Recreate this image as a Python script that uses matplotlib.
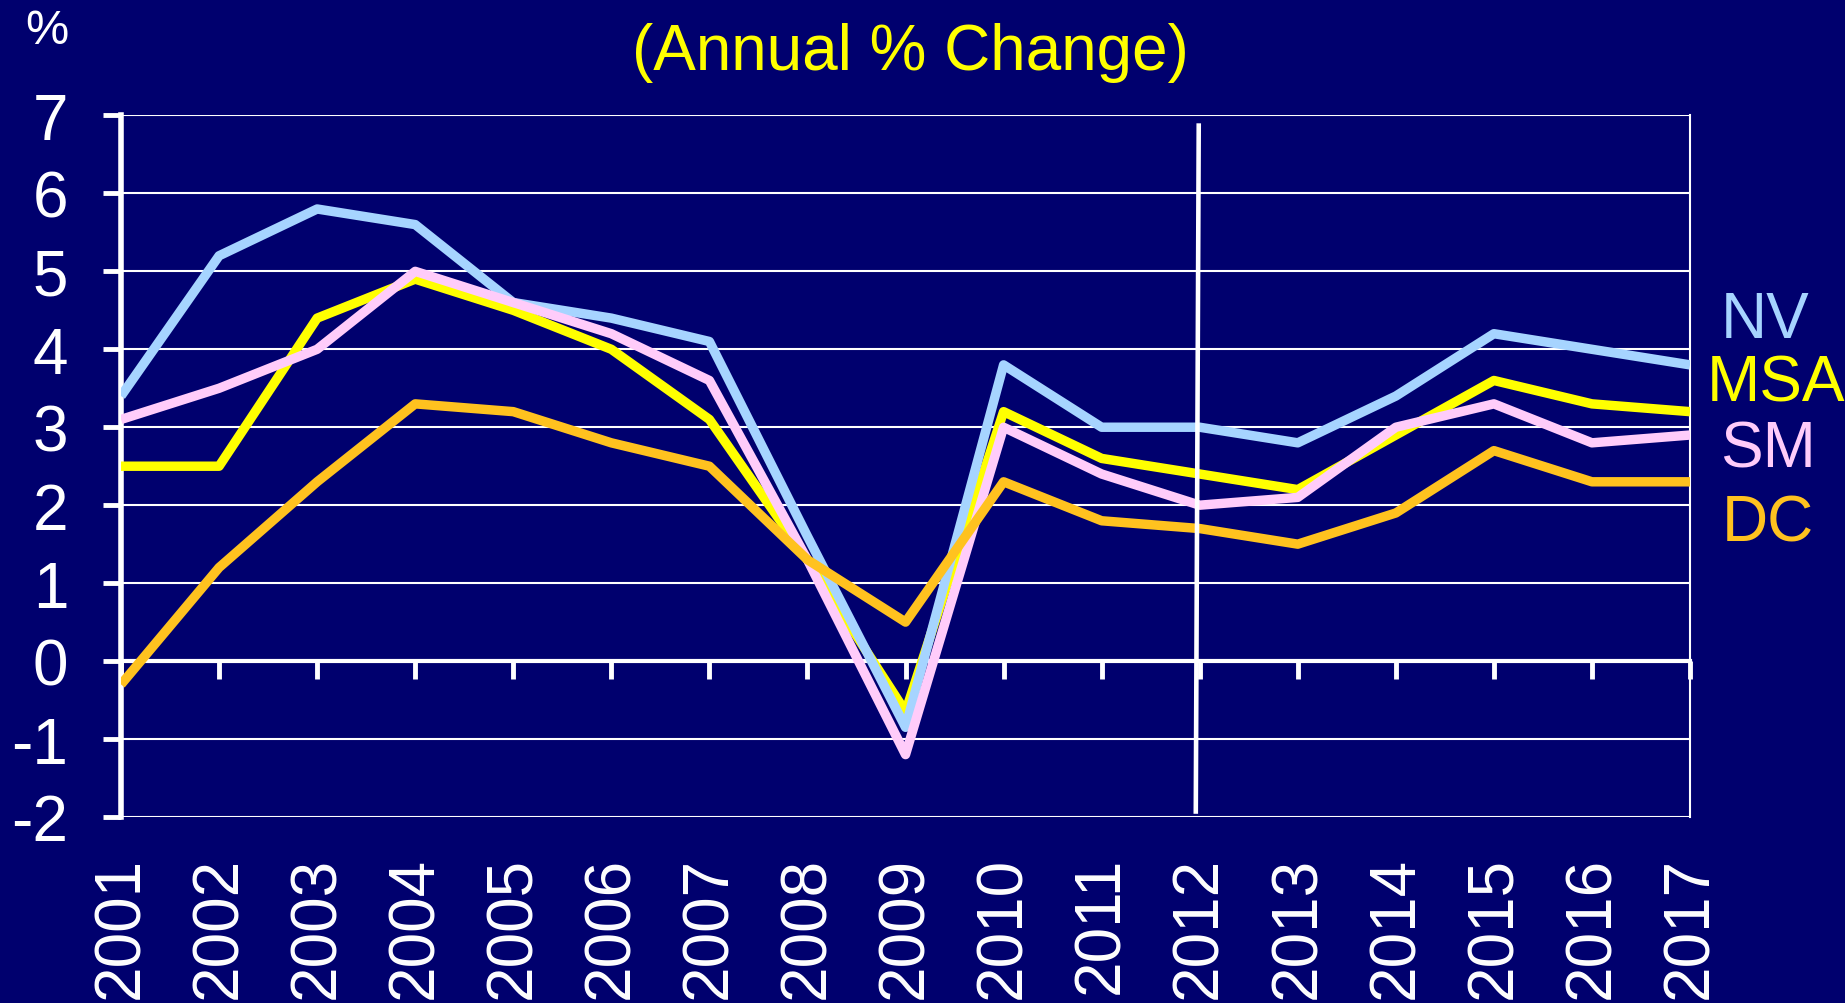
import numpy as np
import matplotlib
matplotlib.use('Agg')
import matplotlib.pyplot as plt

matplotlib.rcParams['font.family'] = ['Liberation Sans', 'DejaVu Sans']
matplotlib.rcParams['axes.unicode_minus'] = False

# 数据
years = list(range(2001, 2018))
nv  = [3.4, 5.2, 5.8, 5.6, 4.6, 4.4, 4.1, 1.6, -0.85, 3.8, 3.0, 3.0, 2.8, 3.4, 4.2, 4.0, 3.8]
msa = [2.5, 2.5, 4.4, 4.9, 4.5, 4.0, 3.1, 1.3, -0.65, 3.2, 2.6, 2.4, 2.2, 2.9, 3.6, 3.3, 3.2]
sm  = [3.1, 3.5, 4.0, 5.0, 4.6, 4.2, 3.6, 1.3, -1.2, 3.0, 2.4, 2.0, 2.1, 3.0, 3.3, 2.8, 2.9]
dc  = [-0.3, 1.2, 2.3, 3.3, 3.2, 2.8, 2.5, 1.3, 0.5, 2.3, 1.8, 1.7, 1.5, 1.9, 2.7, 2.3, 2.3]
series_names = ['NV', 'MSA', 'SM', 'DC']
yticks = list(range(-2, 8))

bg = '#00006e'
colors = {'NV': '#a6d4ff', 'MSA': '#ffff00', 'SM': '#ffccfa', 'DC': '#ffc21f'}

fig = plt.figure(figsize=(18.45, 10.04), dpi=100, facecolor=bg)
ax = fig.add_axes([0.0656, 0.1853, 0.916 - 0.0656, 0.884 - 0.1853])
ax.set_facecolor(bg)

# 水平网格线
for v in yticks:
    ax.axhline(v, color='white', lw=1.5, zorder=1)

# 折线（黄色在底，橙色在顶）
data = {'NV': nv, 'MSA': msa, 'SM': sm, 'DC': dc}
zorders = {'MSA': 3, 'NV': 4, 'SM': 5, 'DC': 6}
for name in series_names:
    ax.plot(years, data[name], color=colors[name], lw=6.8, zorder=zorders[name],
            solid_joinstyle='round', solid_capstyle='butt')

# 2012 分隔线
ax.plot([2011.99, 2011.96], [6.87, -1.93], color='white', lw=3.3, zorder=7)

ax.set_xlim(2001, 2017)
ax.set_ylim(-2, 7)

for s in ['top', 'bottom']:
    ax.spines[s].set_visible(False)
ax.spines['left'].set_color('white')
ax.spines['left'].set_linewidth(4)
ax.spines['right'].set_color('white')
ax.spines['right'].set_linewidth(1.5)

ax.set_yticks(yticks)
ax.set_yticklabels([str(v) for v in yticks])
ax.tick_params(axis='y', colors='white', labelcolor='white', labelsize=46,
               length=13, width=3.5, direction='out', pad=25)

ax.set_xticks(years)
ax.set_xticklabels([str(y) for y in years], rotation=90)
ax.tick_params(axis='x', colors='white', labelcolor='white', labelsize=46,
               length=0, pad=28)

# 零轴及刻度
sec = ax.secondary_xaxis(2 / 9)
sec.set_xticks(years)
sec.tick_params(axis='x', colors='white', length=13, width=3.5,
                direction='out', labelbottom=False, labeltop=False)
sec.spines['bottom'].set_color('white')
sec.spines['bottom'].set_linewidth(3)
sec.spines['top'].set_visible(False)

# 标题与单位
fig.text(910 / 1845, 1 - 53 / 1004, '(Annual % Change)', color='#ffff00',
         fontsize=46, ha='center', va='center')
fig.text(47 / 1845, 1 - 31 / 1004, '%', color='white', fontsize=35,
         ha='center', va='center')

# 右侧图例文字
label_pos = {'NV': (1765, 321), 'MSA': (1776, 385), 'SM': (1768, 450), 'DC': (1768, 524)}
for name in series_names:
    x, y = label_pos[name]
    fig.text(x / 1845, 1 - y / 1004, name, color=colors[name], fontsize=46,
             ha='center', va='center')

plt.savefig('out.png', dpi=100, facecolor=bg)
